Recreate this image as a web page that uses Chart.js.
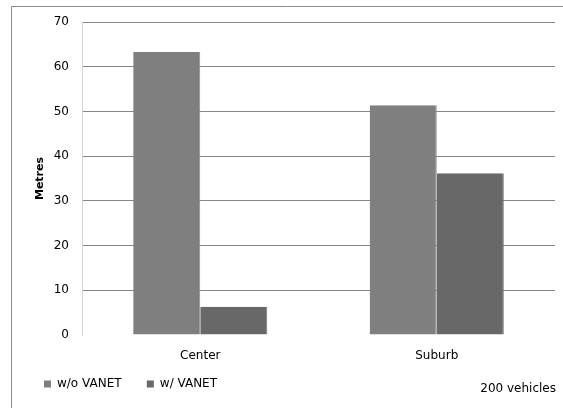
<!DOCTYPE html>
<html>
<head>
<meta charset="utf-8">
<script src="https://cdn.jsdelivr.net/npm/chart.js@4/dist/chart.umd.min.js"></script>
<style>
  html,body{margin:0;padding:0;background:#fff;}
  #wrap{width:563px;height:408px;}
</style>
</head>
<body>
<div id="wrap"><canvas id="c" width="563" height="408"></canvas></div>
<script>
var categories = ["Center", "Suburb"];
var withoutVanet = [63.3, 51.4];
var withVanet = [6.3, 36.2];
var seriesNames = ["w/o VANET", "w/ VANET"];
var yTicks = [0, 10, 20, 30, 40, 50, 60, 70];
var note = "200 vehicles";

// outer frame + the little note in the corner
var frame = {
  id: "frame",
  beforeDraw: function(chart) {
    var ctx = chart.ctx;
    ctx.save();
    ctx.strokeStyle = "#8c8c8c";
    ctx.lineWidth = 1;
    ctx.beginPath();
    ctx.moveTo(563, 6.5);
    ctx.lineTo(11.5, 6.5);
    ctx.lineTo(11.5, 408);
    ctx.stroke();
    ctx.restore();
  },
  afterDraw: function(chart) {
    var ctx = chart.ctx;
    ctx.save();
    ctx.fillStyle = "#000";
    ctx.font = "12px 'DejaVu Sans'";
    ctx.textAlign = "right";
    ctx.textBaseline = "middle";
    ctx.fillText(note, 556, 389);
    ctx.restore();
  }
};

function draw() {
  var canvas = document.getElementById("c");
  var data = {
    labels: categories,
    datasets: [
      { label: seriesNames[0], data: withoutVanet, backgroundColor: "#7f7f7f", borderColor: "#8a8a8a", borderWidth: {right: 1} },
      { label: seriesNames[1], data: withVanet, backgroundColor: "#686868", borderColor: "#727272", borderWidth: {right: 1} }
    ]
  };

  var chart = new Chart(canvas.getContext("2d"), {
    type: "bar",
    data: data,
    plugins: [frame],
    options: {
      responsive: false,
      animation: false,
      layout: { padding: { left: 34, right: 8, top: 22, bottom: 8 } },
      datasets: { bar: { categoryPercentage: 0.567, barPercentage: 1.0 } },
      plugins: {
        tooltip: { enabled: false },
        legend: {
          position: "bottom",
          align: "start",
          labels: {
            boxWidth: 7,
            boxHeight: 7,
            padding: 10,
            color: "#000",
            font: { family: "DejaVu Sans", size: 12 },
            generateLabels: function(ch) {
              var items = Chart.defaults.plugins.legend.labels.generateLabels(ch);
              items.forEach(function(it, i) {
                if (i == 0) it.text = it.text + "    ";
                it.lineWidth = 0;
              });
              return items;
            }
          }
        }
      },
      scales: {
        x: {
          grid: { display: false },
          border: { display: false },
          ticks: { color: "#000", padding: 6, font: { family: "DejaVu Sans", size: 12 } },
          afterFit: function(s) { s.height = 33; }
        },
        y: {
          min: 0,
          max: 70,
          afterBuildTicks: function(s) { s.ticks = yTicks.map(function(v){ return {value: v}; }); },
          grid: {
            drawTicks: false,
            color: function(c) { return c.tick.value == 0 ? "rgba(0,0,0,0)" : "#868686"; }
          },
          border: { display: true, color: "#d4d4d4" },
          ticks: { color: "#000", padding: 13, font: { family: "DejaVu Sans", size: 12 } },
          title: {
            display: true,
            text: "Metres",
            color: "#000",
            font: { family: "DejaVu Sans", size: 11, weight: "bold" },
            padding: { top: 0, bottom: 0 }
          },
          afterFit: function(s) { s.width = 48; }
        }
      }
    }
  });
}

window.onload = draw;
</script>
</body>
</html>
